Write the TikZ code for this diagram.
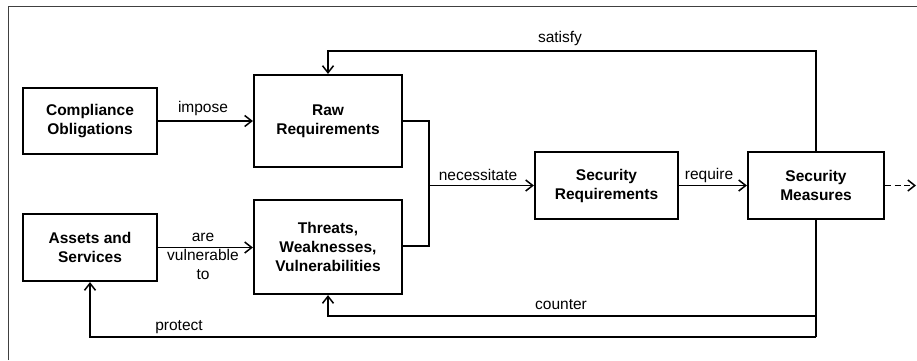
\documentclass[tikz,border=0pt]{standalone}
\usepackage{fontspec}
\setmainfont{Liberation Sans}
\usetikzlibrary{arrows.meta}
\begin{document}
\begin{tikzpicture}[x=1pt,y=-1pt,
  box/.style={draw=black,line width=2.2pt,align=center,font=\fontsize{15.5}{19}\selectfont\bfseries,inner sep=0pt},
  conn/.style={line width=1.4pt,-{Straight Barb[length=7pt,width=11pt,line width=1.5pt]}},
  plain/.style={line width=1.4pt},
  lbl/.style={align=center,font=\fontsize{15.5}{19}\selectfont,inner sep=0pt}]
\useasboundingbox (0,0) rectangle (917,360);
\draw[line width=1pt,black!75] (8,360) -- (8,6) -- (917,6);
\node[box,minimum width=134pt,minimum height=66pt] (co) at (90,121) {Compliance\\Obligations};
\node[box,minimum width=148pt,minimum height=92pt] (rr) at (328,121) {Raw\\Requirements};
\node[box,minimum width=134pt,minimum height=67pt] (as) at (90,247.5) {Assets and\\Services};
\node[box,minimum width=148pt,minimum height=94pt] (tw) at (328,247) {Threats,\\Weaknesses,\\Vulnerabilities};
\node[box,minimum width=143pt,minimum height=67pt] (sr) at (606.5,185.5) {Security\\Requirements};
\node[box,minimum width=136pt,minimum height=67pt] (sm) at (816,185.5) {Security\\Measures};
\coordinate (jt) at (429,121);
\coordinate (jb) at (429,246);
\coordinate (jm) at (429,185.5);
\coordinate (out) at (916,185.5);
\coordinate (s1) at (816,51);
\coordinate (s2) at (328,51);
\coordinate (c1) at (816,316);
\coordinate (c2) at (328,316);
\coordinate (p1) at (816,337);
\coordinate (p2) at (90,337);
\draw[conn] (co.east) -- (rr.west);
\draw[conn] (as.east) -- (tw.west |- as.east);
\draw[plain] (rr.east) -- (jt) -- (jb) -- (tw.east |- jb);
\draw[conn] (jm) -- (sr.west);
\draw[conn] (sr.east) -- (sm.west);
\draw[conn,dash pattern=on 6pt off 3.5pt] (sm.east) -- (out);
\draw[conn] (sm.north) -- (s1) -- (s2) -- (rr.north);
\draw[conn] (sm.south) -- (c1) -- (c2) -- (tw.south);
\draw[plain] (c1) -- (p1);
\draw[conn] (p1) -- (p2) -- (as.south);
\node[lbl] (limpose) at (203,108) {impose};
\node[lbl] (lvuln) at (203,256) {are\\vulnerable\\to};
\node[lbl] (lnec) at (478,175) {necessitate};
\node[lbl] (lreq) at (709,175) {require};
\node[lbl] (lsat) at (560,38) {satisfy};
\node[lbl] (lcount) at (561,305) {counter};
\node[lbl] (lprot) at (179,327) {protect};
\end{tikzpicture}
\end{document}
